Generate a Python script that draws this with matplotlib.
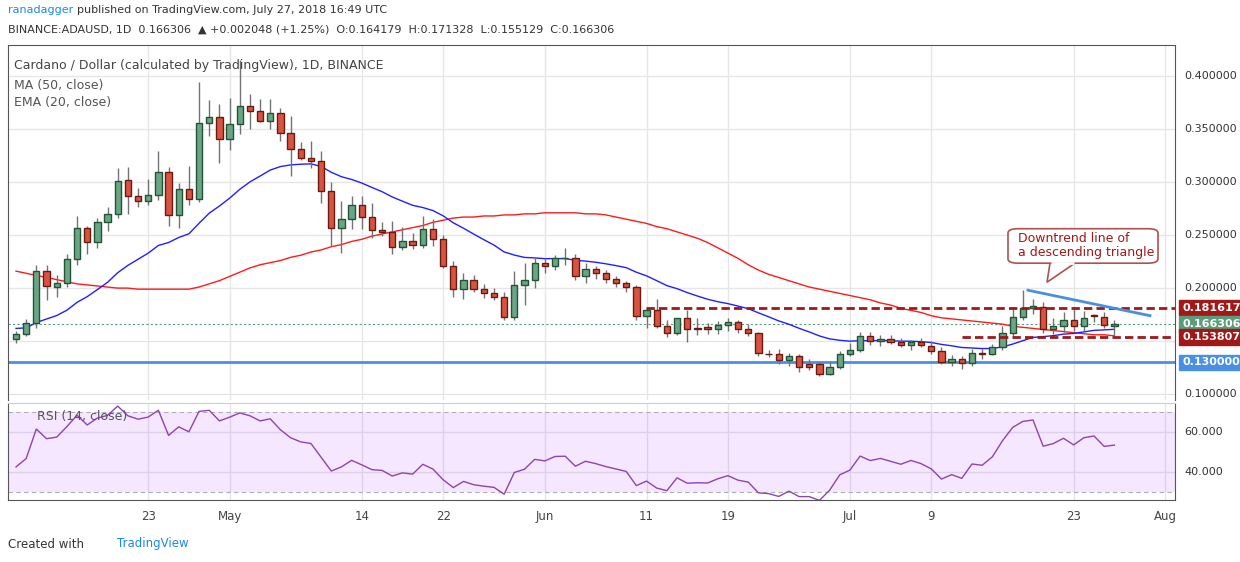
import numpy as np
import matplotlib.pyplot as plt
from matplotlib.patches import Rectangle, FancyBboxPatch, Polygon

plt.rcParams["font.family"] = ["DejaVu Sans"]

# ---- data (ADA/USD daily, Apr 10 - Jul 27 2018) ----
opens = [.152, .157, .167, .216, .201, .205, .227, .257, .243, .262, .270, .302, .287, .282, .288, .309, .269, .293, .284, .356,
         .361, .341, .355, .372, .367, .358, .365, .346, .331, .323, .320, .292, .257, .265, .278, .267, .255, .253, .239, .244,
         .241, .256, .246, .221, .199, .208, .199, .195, .192, .173, .203, .208, .224, .221, .228, .228, .211, .218, .214, .209,
         .205, .201, .174, .179, .164, .158, .172, .162, .163, .161, .165, .168, .161, .158, .138, .138, .132, .136, .128, .128,
         .119, .126, .138, .142, .155, .150, .152, .149, .146, .149, .145, .141, .130, .133, .129, .138, .138, .144, .158, .173,
         .181, .182, .161, .164, .170, .164, .1745, .173, .164179]
closes = [.157, .167, .216, .202, .205, .227, .257, .243, .262, .270, .301, .287, .282, .288, .309, .269, .293, .284, .356, .361,
          .341, .355, .372, .367, .358, .365, .346, .331, .323, .320, .292, .257, .265, .278, .267, .255, .253, .239, .244, .241,
          .256, .246, .221, .199, .208, .199, .195, .192, .173, .203, .208, .224, .221, .228, .2285, .211, .218, .214, .209, .205,
          .201, .174, .179, .164, .158, .172, .161, .1615, .161, .165, .168, .161, .158, .139, .1375, .132, .136, .126, .126, .119,
          .126, .138, .142, .155, .150, .152, .149, .146, .149, .146, .141, .130, .133, .129, .139, .1378, .144, .158, .173, .181,
          .183, .161, .164, .170, .164, .172, .174, .165, .166306]
highs = [.160, .171, .222, .222, .212, .232, .268, .259, .266, .276, .313, .314, .294, .303, .329, .314, .299, .315, .394, .377,
         .374, .379, .415, .383, .378, .378, .370, .362, .338, .339, .329, .300, .282, .287, .287, .280, .262, .263, .258, .252,
         .268, .265, .250, .226, .214, .212, .204, .200, .196, .216, .224, .228, .228, .231, .238, .232, .224, .221, .217, .211,
         .207, .203, .181, .190, .170, .170, .179, .172, .167, .169, .172, .170, .166, .159, .142, .143, .139, .138, .133, .130,
         .130, .141, .148, .159, .159, .156, .156, .153, .151, .153, .150, .144, .137, .136, .143, .143, .147, .164, .182, .198,
         .190, .187, .172, .177, .180, .178, .176, .177, .170]
lows = [.148, .155, .162, .189, .192, .201, .222, .232, .238, .254, .266, .270, .276, .278, .283, .259, .257, .278, .281, .343,
        .318, .330, .345, .350, .357, .350, .339, .306, .321, .313, .280, .240, .233, .256, .256, .247, .249, .232, .236, .237,
        .238, .240, .219, .192, .190, .196, .191, .189, .170, .170, .184, .200, .214, .217, .222, .208, .205, .209, .205, .201,
        .196, .170, .162, .162, .154, .156, .149, .156, .157, .157, .160, .158, .155, .136, .135, .128, .127, .121, .123, .117,
        .118, .124, .136, .140, .146, .145, .147, .144, .142, .144, .138, .128, .127, .124, .127, .133, .137, .142, .155, .170,
        .176, .158, .157, .159, .160, .160, .168, .162, .155]
ma50 = [.216, .214, .212, .210, .208, .206, .204, .203, .202, .201, .200,
        .200, .199, .199, .199, .199, .199, .199,
        .201, .204, .207, .211, .215, .219,
        .222, .224, .226, .229, .231,
        .234, .236, .239, .241, .244, .246, .249, .251,
        .253, .255, .257, .259, .262, .264, .266,
        .267, .267, .268, .268, .269,
        .269, .270, .270, .271, .271, .271,
        .271, .270, .270, .269,
        .267, .265, .263, .261, .258,
        .256, .253, .250, .247,
        .243, .238, .233, .228, .222, .217,
        .213, .210, .207, .204, .201, .199,
        .197, .195, .193, .191,
        .189, .186, .184, .181, .179, .177, .174, .172,
        .171, .170, .169, .168, .167, .166, .164,
        .163, .162, .161, .160, .159, .158, .157, .156, .156, .155]

tick_idx = [13, 21, 34, 42, 52, 62, 70, 82, 90, 104, 113]
tick_lab = ["23", "May", "14", "22", "Jun", "11", "19", "Jul", "9", "23", "Aug"]

support = 0.130
res_hi = 0.181617
res_lo = 0.153807
last = 0.166306

# ---- indicators ----
ema = [0.162]
for c in closes[1:]:
    ema.append(ema[-1] + (c - ema[-1]) * 2 / 21)
ag, al = 0.0045, 0.0060
rsi = []
prev = 0.158
for c in closes:
    d = c - prev
    ag = (ag * 13 + max(d, 0)) / 14
    al = (al * 13 + max(-d, 0)) / 14
    rsi.append(100 - 100 / (1 + ag / al))
    prev = c

# ---- figure ----
W, H = 1240, 562
fig = plt.figure(figsize=(12.4, 5.62), dpi=100)
fig.patch.set_facecolor("white")
ax = fig.add_axes([8 / W, 1 - 400 / H, 1167 / W, 355 / H])
ax2 = fig.add_axes([8 / W, 1 - 500 / H, 1167 / W, 97 / H])

step = 10.17
x0 = -(16 - 8) / step
x1 = x0 + 1167 / step
n = len(closes)
xs = np.arange(n)

up_f, up_e = "#6ba583", "#225437"
dn_f, dn_e = "#d75442", "#6b1a10"
bw = 0.62
for i in range(n):
    o, c = opens[i], closes[i]
    ax.vlines(i, lows[i], highs[i], color="#737375", lw=1, zorder=3)
    fc, ec = (up_f, up_e) if c >= o else (dn_f, dn_e)
    b = min(o, c)
    h = max(abs(c - o), 0.0006)
    ax.add_patch(Rectangle((i - bw / 2, b), bw, h, facecolor=fc, edgecolor=ec, lw=1, zorder=4))

ax.plot(xs, ma50, color="#ff1a1a", lw=1, zorder=2)
ax.plot(xs, ema, color="#2020ff", lw=1, zorder=2)
ax.axhline(support, color="#4a90e2", lw=2, zorder=1)
ax.axhline(last, color="#5b9c7a", lw=0.8, ls=(0, (2, 2)), zorder=1)
ax.hlines(res_hi, 61.9, x1, color="#a01818", lw=2, ls=(0, (3, 1.5)), zorder=5)
ax.hlines(res_lo, 93, x1, color="#a01818", lw=2, ls=(0, (3, 1.5)), zorder=5)
ax.plot([99.5, 111.5], [0.198, 0.174], color="#4a90e2", lw=2, zorder=5)

ylo, yhi = 0.0945, 0.4292
ax.set_ylim(ylo, yhi)
ax.set_xlim(x0, x1)
for a in (ax, ax2):
    a.set_xticks(tick_idx)
    a.grid(True, color="#e6e6e6", lw=1)
    a.set_axisbelow(True)
    a.tick_params(length=0, labelleft=False, labelbottom=False)
    for s in a.spines.values():
        s.set_color("#555555")
ax.spines["bottom"].set_visible(False)
ax2.spines["top"].set_color("#cccccc")
ax.set_yticks([0.10, 0.15, 0.20, 0.25, 0.30, 0.35, 0.40])

# bottom date labels
ax2.set_xlim(x0, x1)
for i, t in zip(tick_idx, tick_lab):
    ax2.text(i, -0.1, t, transform=ax2.get_xaxis_transform(), ha="center", va="top",
             fontsize=8.5, color="#444444")

# right price labels
def py(p):
    return (p - ylo) / (yhi - ylo)
for p in [0.10, 0.15, 0.20, 0.25, 0.30, 0.35, 0.40]:
    if abs(p - 0.15) < 1e-6:
        continue
    ax.text(1.008, py(p), f"{p:.6f}", transform=ax.transAxes, va="center", ha="left",
            fontsize=8, color="#333333")
for p, col in [(res_hi, "#a01818"), (last, "#5b9c7a"), (res_lo, "#a01818"), (support, "#4a90e2")]:
    ax.text(1.006, py(p), f"{p:.6f}", transform=ax.transAxes, va="center", ha="left",
            fontsize=8, color="white", fontweight="bold", zorder=10,
            bbox=dict(boxstyle="square,pad=0.25", fc=col, ec=col))

# callout
cx0, cx1 = (1008 - 16) / step, (1158 - 16) / step
ax.add_patch(FancyBboxPatch((cx0, 0.2235), cx1 - cx0, 0.0325,
                            boxstyle="round,pad=0,rounding_size=1.0", mutation_aspect=0.004,
                            fc="white", ec="#b05050", lw=1.2, zorder=8))
ax.add_patch(Polygon([[(1050 - 16) / step, 0.2236], [(1075 - 16) / step, 0.2236], [(1047 - 16) / step, 0.2055]],
                     closed=True, fc="white", ec="#b05050", lw=1.2, zorder=7))
ax.hlines(0.2236, (1051 - 16) / step, (1074 - 16) / step, color="white", lw=2, zorder=9)
ax.text((1018 - 16) / step, 0.240, "Downtrend line of\na descending triangle", fontsize=9,
        color="#a01818", va="center", ha="left", zorder=10, linespacing=1.1)

# legend texts
ax.text(0.005, 0.96, "Cardano / Dollar (calculated by TradingView), 1D, BINANCE", transform=ax.transAxes,
        fontsize=9, color="#444444", va="top")
ax.text(0.005, 0.905, "MA (50, close)", transform=ax.transAxes, fontsize=9, color="#555555", va="top")
ax.text(0.005, 0.855, "EMA (20, close)", transform=ax.transAxes, fontsize=9, color="#555555", va="top")

# RSI
ax2.set_ylim(26, 74.5)
ax2.axhspan(30, 70, color="#9915ff", alpha=0.1, lw=0)
ax2.axhline(70, color="#b0b0b0", lw=0.8, ls=(0, (4, 3)))
ax2.axhline(30, color="#b0b0b0", lw=0.8, ls=(0, (4, 3)))
ax2.plot(xs, rsi, color="#8e44ad", lw=1)
ax2.set_yticks([40, 60])
ax2.text(0.025, 0.93, "RSI (14, close)", transform=ax2.transAxes, fontsize=9, color="#555555", va="top")
for v in [40, 60]:
    ax2.text(1.008, (v - 26) / 48.5, f"{v:.3f}", transform=ax2.transAxes, va="center", ha="left",
             fontsize=8, color="#333333")

# header / footer
fig.text(8 / W, 1 - 10 / H, "ranadagger", fontsize=8, color="#1e88e5", va="center")
fig.text(77 / W, 1 - 10 / H, "published on TradingView.com, July 27, 2018 16:49 UTC", fontsize=8,
         color="#333333", va="center")
fig.text(8 / W, 1 - 30 / H, "BINANCE:ADAUSD, 1D  0.166306  \u25b2 +0.002048 (+1.25%)  O:0.164179  H:0.171328  L:0.155129  C:0.166306",
         fontsize=8, color="#333333", va="center")
fig.text(8 / W, 1 - 544 / H, "Created with", fontsize=8.5, color="#333333", va="center")
fig.text(117 / W, 1 - 544 / H, "TradingView", fontsize=8.5, color="#1e88e5", va="center")

fig.savefig("out.png", dpi=100, facecolor="white")
